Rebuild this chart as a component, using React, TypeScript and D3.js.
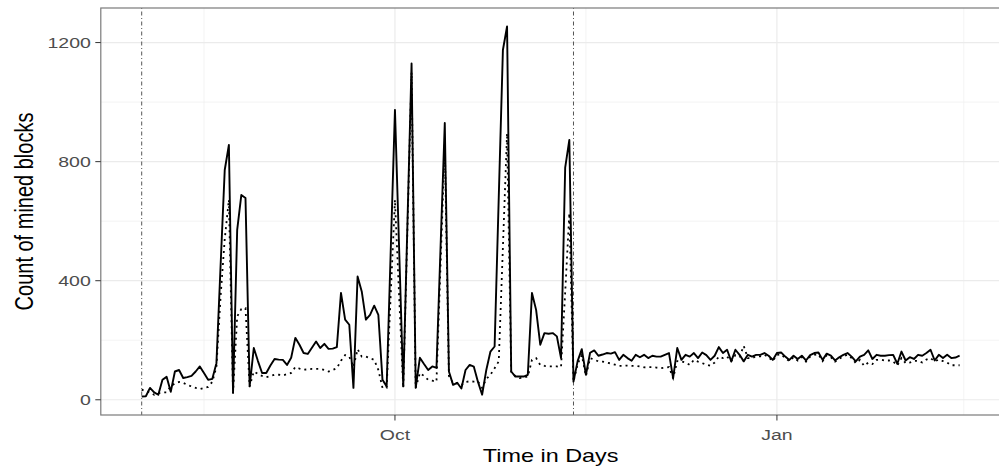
import * as d3 from 'd3'
import React, { useEffect, useRef } from 'react'

// one value per day, starting on startDay
const startDay = '2017-08-01'

const solidCounts = [
  11, 12, 40, 25, 17, 67, 77, 27, 95, 100, 73, 76, 80, 95, 112, 90, 67, 70, 123, 450,
  772, 856, 23, 571, 688, 678, 45, 174, 130, 90, 90, 115, 137, 135, 134, 117, 141, 208, 185, 157,
  154, 175, 196, 174, 188, 171, 172, 177, 359, 269, 252, 40, 414, 364, 269, 285, 316, 285, 67, 45,
  510, 974, 510, 45, 590, 1130, 40, 141, 120, 100, 112, 107, 520, 930, 95, 50, 57, 38, 100, 117,
  111, 60, 17, 100, 162, 179, 680, 1175, 1254, 95, 78, 78, 78, 84, 359, 302, 185, 224, 222, 224,
  213, 140, 780, 873, 61,
  130, 170, 84, 158, 166, 148, 152, 157, 155, 160, 134, 151, 140, 131, 151, 143, 151, 140, 148, 145,
  145, 151, 157, 73, 174, 134, 151, 145, 157, 140, 159, 150, 134, 148, 177, 157, 168, 129, 168, 151,
  129, 151, 145, 151, 151, 157, 148, 134, 157,
  159, 145, 134, 148, 137, 148, 132, 150, 157, 159, 134, 155, 148, 132, 143, 151, 157, 145, 129, 145,
  151, 166, 137, 151, 148, 148, 150, 151, 121, 162, 132, 143, 137, 151, 148, 157, 168, 132, 151, 140,
  151, 140, 142, 148
]

const dottedCounts = [
  34, 28, 25, 17, 22, 25, 25, 45, 55, 60, 57, 50, 45, 40, 36, 40, 43, 60, 110, 347,
  540, 672, 23, 280, 305, 308, 45, 95, 87, 80, 76, 80, 84, 84, 82, 86, 90, 110, 105, 101,
  102, 104, 104, 104, 100, 95, 100, 106, 131, 150, 145, 110, 170, 145, 145, 140, 134, 100, 40, 40,
  360, 672, 350, 40, 570, 1100, 40, 90, 80, 67, 64, 61, 460, 860, 80, 56, 57, 50, 60, 62,
  61, 61, 40, 70, 84, 106, 129, 512, 895, 90, 80, 73, 75, 78, 134, 140, 117, 114, 112, 112,
  112, 110, 360, 627, 61,
  120, 150, 80, 140, 135, 129, 128, 125, 122, 118, 114, 114, 115, 114, 114, 112, 109, 110, 110, 108,
  106, 108, 110, 73, 130, 129, 125, 117, 134, 128, 123, 118, 114, 125, 145, 140, 145, 129, 150, 145,
  181, 140,
  140, 146, 146, 151, 143, 130, 151, 153, 140, 130, 143, 132, 143, 128, 145, 151, 153, 130, 150, 143,
  128, 138, 146, 151, 140, 123, 134, 114, 125, 120, 134, 135, 132, 132, 129, 115, 140, 123, 125, 131,
  131, 125, 135, 140, 129, 135, 130, 125, 116, 116, 116
]

const eventDays = ['2017-08-01', '2017-11-13']
const majorBreaks = ['2017-07-01', '2017-10-01', '2018-01-01', '2018-04-01']
const majorLabels = ['Jul', 'Oct', 'Jan', 'Apr']
const yBreaks = [0, 400, 800, 1200]

const parse = d3.utcParse('%Y-%m-%d')
const font = 'Liberation Sans, Arial, Helvetica, sans-serif'
const stretch = 1.3

export default function App () {
  const ref = useRef<SVGSVGElement>(null)

  useEffect(() => {
    const width = 999; const height = 471
    const left = 100.8; const right = 1000.5; const top = 8; const bottom = 415
    const svg = d3.select(ref.current)
    svg.selectAll('*').remove()

    const start = parse(startDay) as Date
    const days = solidCounts.map((_, i) => d3.utcDay.offset(start, i))
    const first = +days[0]; const last = +days[days.length - 1]
    const pad = (last - first) * 0.05
    const x = d3.scaleUtc().domain([new Date(first - pad), new Date(last + pad)]).range([left, right])

    const all = solidCounts.concat(dottedCounts)
    const lo = d3.min(all) as number; const hi = d3.max(all) as number
    const yPad = (hi - lo) * 0.05
    const y = d3.scaleLinear().domain([lo - yPad, hi + yPad]).range([bottom, top])

    svg.append('rect').attr('width', width).attr('height', height).attr('fill', '#fff')

    const majors = majorBreaks.map(parse) as Date[]
    const minors = d3.pairs(majors).map(([a, b]) => new Date((+a + +b) / 2))
    const yMinor = d3.pairs(yBreaks).map(([a, b]) => (a + b) / 2)
    const inX = (d: Date) => x(d) >= left && x(d) <= right

    const grid = svg.append('g')
    grid.selectAll('.ym').data(yMinor).enter().append('line')
      .attr('x1', left).attr('x2', right).attr('y1', d => y(d)).attr('y2', d => y(d))
      .attr('stroke', '#efefef').attr('stroke-width', 0.7)
    grid.selectAll('.xm').data(minors.filter(inX)).enter().append('line')
      .attr('x1', d => x(d)).attr('x2', d => x(d)).attr('y1', top).attr('y2', bottom)
      .attr('stroke', '#efefef').attr('stroke-width', 0.7)
    grid.selectAll('.yM').data(yBreaks).enter().append('line')
      .attr('x1', left).attr('x2', right).attr('y1', d => y(d)).attr('y2', d => y(d))
      .attr('stroke', '#ebebeb').attr('stroke-width', 1.2)
    grid.selectAll('.xM').data(majors.filter(inX)).enter().append('line')
      .attr('x1', d => x(d)).attr('x2', d => x(d)).attr('y1', top).attr('y2', bottom)
      .attr('stroke', '#ebebeb').attr('stroke-width', 1.2)

    svg.selectAll('.vline').data(eventDays.map(parse) as Date[]).enter().append('line')
      .attr('x1', d => x(d)).attr('x2', d => x(d)).attr('y1', top).attr('y2', bottom)
      .attr('stroke', '#555').attr('stroke-width', 1)
      .attr('stroke-dasharray', '1,2.5,4,2.5')

    const line = d3.line<number>()
      .x((_, i) => x(days[i]))
      .y(d => y(d))

    svg.append('path').datum(solidCounts).attr('d', line)
      .attr('fill', 'none').attr('stroke', '#000').attr('stroke-width', 1.9)
      .attr('stroke-linejoin', 'round')
    svg.append('path').datum(dottedCounts).attr('d', line)
      .attr('fill', 'none').attr('stroke', '#000').attr('stroke-width', 1.8)
      .attr('stroke-dasharray', '2,4')

    svg.append('rect').attr('x', left).attr('y', top)
      .attr('width', right - left).attr('height', bottom - top)
      .attr('fill', 'none').attr('stroke', '#7a7a7a').attr('stroke-width', 1.2)

    // y axis
    const yAxis = svg.append('g')
    yAxis.selectAll('line').data(yBreaks).enter().append('line')
      .attr('x1', left - 5.5).attr('x2', left).attr('y1', d => y(d)).attr('y2', d => y(d))
      .attr('stroke', '#333').attr('stroke-width', 1)
    yAxis.selectAll('text').data(yBreaks).enter().append('text')
      .attr('transform', d => `translate(${left - 10},${y(d)}) scale(${stretch},1)`)
      .attr('dy', '0.36em').attr('text-anchor', 'end')
      .attr('font-family', font).attr('font-size', 15).attr('fill', '#4d4d4d')
      .text(d => d)

    // x axis
    const ticks = majors.map((d, i) => ({ d, label: majorLabels[i] })).filter(t => inX(t.d))
    const xAxis = svg.append('g')
    xAxis.selectAll('line').data(ticks).enter().append('line')
      .attr('x1', t => x(t.d)).attr('x2', t => x(t.d)).attr('y1', bottom).attr('y2', bottom + 5.5)
      .attr('stroke', '#333').attr('stroke-width', 1)
    xAxis.selectAll('text').data(ticks).enter().append('text')
      .attr('transform', t => `translate(${x(t.d)},${bottom + 25}) scale(${stretch},1)`)
      .attr('text-anchor', 'middle')
      .attr('font-family', font).attr('font-size', 15).attr('fill', '#4d4d4d')
      .text(t => t.label)

    svg.append('text')
      .attr('transform', `translate(${(left + right) / 2},462) scale(${stretch},1)`)
      .attr('text-anchor', 'middle').attr('font-family', font).attr('font-size', 18)
      .text('Time in Days')
    svg.append('text')
      .attr('transform', `translate(33,${(top + bottom) / 2}) scale(${stretch},1) rotate(-90)`)
      .attr('text-anchor', 'middle').attr('font-family', font).attr('font-size', 20)
      .text('Count of mined blocks')
  }, [])

  return (
    <svg
      ref={ref}
      width={999}
      height={471}
      style={{ position: 'absolute', left: 0, top: 0, display: 'block' }}
    />
  )
}
